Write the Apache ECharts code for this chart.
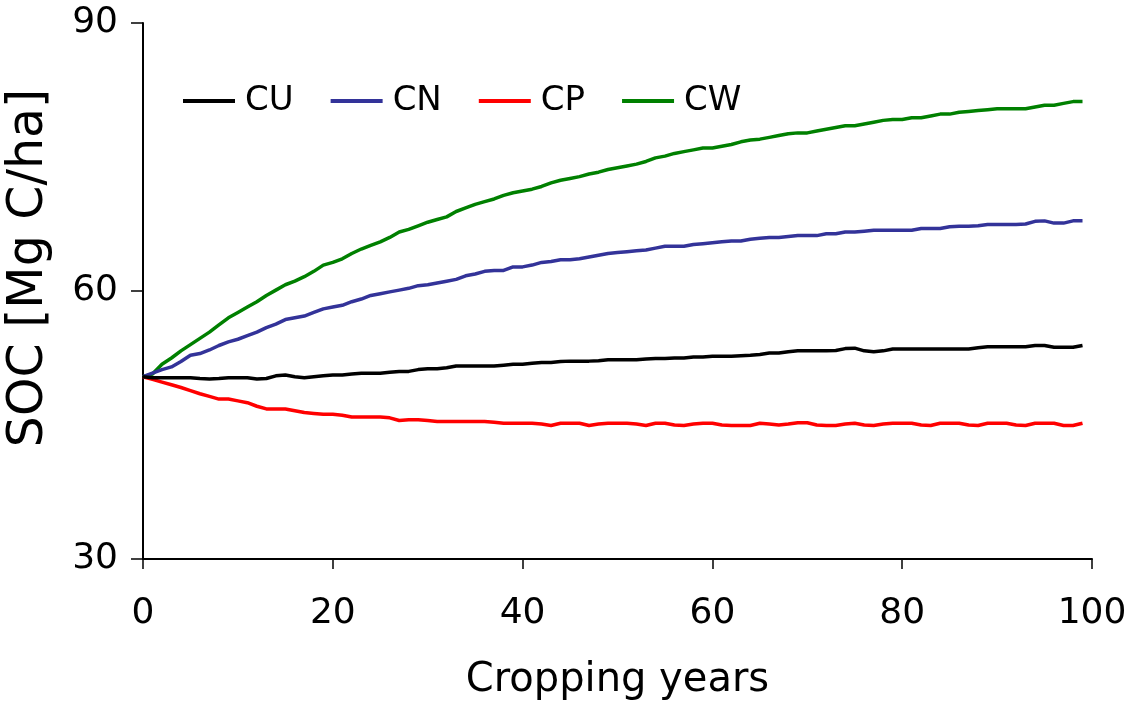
<!DOCTYPE html>
<html>
<head>
<meta charset="utf-8">
<script src="https://cdn.jsdelivr.net/npm/echarts@6/dist/echarts.min.js"></script>
<style>
html,body{margin:0;padding:0;background:#fff;}
#chart{width:1131px;height:708px;}
</style>
</head>
<body>
<div id="chart"></div>
<script>
// Cropping years 0..99
const years = Array.from({length: 100}, (_, i) => i);

const seriesNames = ['CU', 'CN', 'CP', 'CW'];

const CU = [
50.4,50.3,50.3,50.3,50.3,50.3,50.2,50.15,50.2,50.3,
50.3,50.3,50.15,50.2,50.5,50.6,50.4,50.3,50.4,50.5,
50.6,50.6,50.7,50.8,50.8,50.8,50.9,51.0,51.0,51.2,
51.3,51.3,51.4,51.6,51.6,51.6,51.6,51.6,51.7,51.8,
51.8,51.9,52.0,52.0,52.1,52.15,52.15,52.15,52.2,52.3,
52.3,52.3,52.3,52.4,52.45,52.45,52.5,52.5,52.6,52.6,
52.7,52.7,52.7,52.75,52.8,52.9,53.05,53.05,53.2,53.3,
53.3,53.3,53.3,53.35,53.55,53.6,53.3,53.2,53.3,53.5,
53.5,53.5,53.5,53.5,53.5,53.5,53.5,53.5,53.65,53.75,
53.75,53.75,53.75,53.75,53.9,53.9,53.7,53.7,53.7,53.9
];

const CN = [
50.4,50.8,51.2,51.5,52.1,52.8,53.0,53.4,53.9,54.3,
54.6,55.0,55.4,55.9,56.3,56.8,57.0,57.2,57.6,58.0,
58.2,58.4,58.8,59.1,59.5,59.7,59.9,60.1,60.3,60.6,
60.7,60.9,61.1,61.3,61.7,61.9,62.2,62.3,62.3,62.7,
62.7,62.9,63.2,63.3,63.5,63.5,63.6,63.8,64.0,64.2,
64.3,64.4,64.5,64.6,64.8,65.0,65.0,65.0,65.2,65.3,
65.4,65.5,65.6,65.6,65.8,65.9,66.0,66.0,66.1,66.2,
66.2,66.2,66.4,66.4,66.6,66.6,66.7,66.8,66.8,66.8,
66.8,66.8,67.0,67.0,67.0,67.2,67.25,67.25,67.3,67.45,
67.45,67.45,67.45,67.5,67.8,67.85,67.6,67.6,67.85,67.85
];

const CP = [
50.4,50.1,49.8,49.5,49.2,48.85,48.5,48.2,47.9,47.9,
47.7,47.5,47.1,46.8,46.8,46.8,46.6,46.4,46.3,46.2,
46.2,46.1,45.9,45.9,45.9,45.9,45.8,45.5,45.6,45.6,
45.5,45.4,45.4,45.4,45.4,45.4,45.4,45.3,45.2,45.2,
45.2,45.2,45.1,44.95,45.2,45.2,45.2,44.95,45.1,45.2,
45.2,45.2,45.1,44.95,45.2,45.2,45.0,44.95,45.1,45.2,
45.2,45.0,44.95,44.95,44.95,45.2,45.1,45.0,45.1,45.25,
45.25,45.0,44.95,44.95,45.1,45.2,45.0,44.95,45.1,45.2,
45.2,45.2,45.0,44.95,45.2,45.2,45.2,45.0,44.95,45.2,
45.2,45.2,45.0,44.95,45.2,45.2,45.2,44.95,44.95,45.2
];

const CW = [
50.4,50.7,51.8,52.5,53.3,54.0,54.7,55.4,56.2,57.0,
57.6,58.2,58.8,59.5,60.1,60.7,61.1,61.6,62.2,62.9,
63.2,63.6,64.2,64.7,65.1,65.5,66.0,66.6,66.9,67.3,
67.7,68.0,68.3,68.9,69.3,69.7,70.0,70.3,70.7,71.0,
71.2,71.4,71.7,72.1,72.4,72.6,72.8,73.1,73.3,73.6,
73.8,74.0,74.2,74.5,74.9,75.1,75.4,75.6,75.8,76.0,
76.0,76.2,76.4,76.7,76.9,77.0,77.2,77.4,77.6,77.7,
77.7,77.9,78.1,78.3,78.5,78.5,78.7,78.9,79.1,79.2,
79.2,79.4,79.4,79.6,79.8,79.8,80.0,80.1,80.2,80.3,
80.4,80.4,80.4,80.4,80.6,80.8,80.8,81.0,81.2,81.2
];

const xTicks = [0, 20, 40, 60, 80, 100];
const yTicks = [30, 60, 90];

const colors = ['#000000', '#333399', '#ff0000', '#008000'];
const values = [CU, CN, CP, CW];

const FONT = 'DejaVu Sans';

const chart = echarts.init(document.getElementById('chart'), null, {renderer: 'canvas'});
chart.setOption({
  animation: false,
  backgroundColor: '#ffffff',
  grid: {left: 143, right: 39, top: 23, bottom: 149, containLabel: false, outerBoundsMode: 'none'},
  legend: {
    data: seriesNames,
    left: 183,
    top: 84,
    padding: 0,
    itemGap: 37,
    itemWidth: 52,
    itemHeight: 4,
    icon: 'rect',
    textStyle: {fontFamily: FONT, fontSize: 34, color: '#000', padding: [0, 0, 0, 5]}
  },
  xAxis: {
    type: 'value',
    min: xTicks[0],
    max: xTicks[xTicks.length - 1],
    interval: 20,
    name: 'Cropping years',
    nameLocation: 'middle',
    nameGap: 102,
    nameTextStyle: {fontFamily: FONT, fontSize: 40, color: '#000'},
    axisLine: {show: true, lineStyle: {color: '#000', width: 2}},
    axisTick: {show: true, length: 10, inside: false, lineStyle: {color: '#000', width: 1.5}},
    axisLabel: {fontFamily: FONT, fontSize: 36, color: '#000', margin: 37},
    splitLine: {show: false}
  },
  yAxis: {
    type: 'value',
    min: yTicks[0],
    max: yTicks[yTicks.length - 1],
    interval: 30,
    name: 'SOC [Mg C/ha]',
    nameLocation: 'middle',
    nameRotate: 90,
    nameGap: 89,
    nameTextStyle: {fontFamily: FONT, fontSize: 49, color: '#000', padding: [0, 0, 0, 46]},
    axisLine: {show: true, lineStyle: {color: '#000', width: 2}},
    axisTick: {show: true, length: 12, inside: false, lineStyle: {color: '#000', width: 1.5}},
    axisLabel: {fontFamily: FONT, fontSize: 36, color: '#000', margin: 25},
    splitLine: {show: false}
  },
  series: seriesNames.map((name, k) => ({
    name: name,
    type: 'line',
    data: years.map((y, i) => [y, values[k][i]]),
    showSymbol: false,
    symbol: 'none',
    smooth: false,
    color: colors[k],
    lineStyle: {color: colors[k], width: 3.5},
    itemStyle: {color: colors[k]},
    z: 10 - k
  }))
});
</script>
</body>
</html>
